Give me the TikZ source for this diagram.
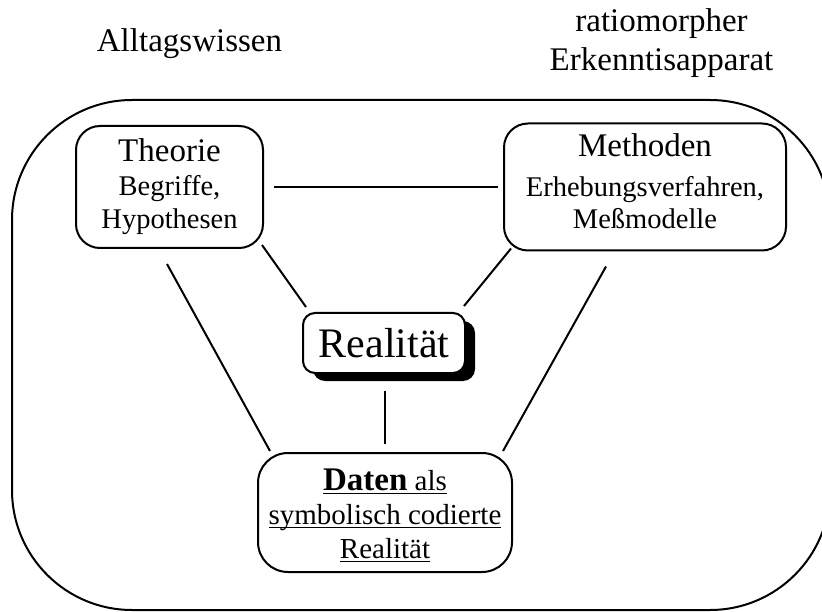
\documentclass[tikz,border=0pt]{standalone}
\usepackage{fontspec}
\setmainfont{Liberation Serif}
\usetikzlibrary{calc,shadows}
\newcommand{\myul}[1]{\setbox0\hbox{#1}\rlap{\rule[-3.5pt]{\wd0}{1.6pt}}\box0}
\tikzset{
  line/.style={line width=2pt},
  box/.style={draw, line width=2pt, fill=white, rounded corners=24pt, inner sep=0pt, align=center,
              font=\fontsize{28.5}{33.5}\selectfont},
  toplabel/.style={inner sep=0pt, align=center, font=\fontsize{33}{39}\selectfont},
}
\begin{document}
\begin{tikzpicture}[x=1pt,y=-1pt]
\clip (0,0) rectangle (822,612);
\draw[line, rounded corners=120pt] (12,100) rectangle (830,610);

\node[toplabel, anchor=base] (alltag) at (189.5,52) {Alltagswissen};
\node[toplabel] (ratio) at (661.5,43) {ratiomorpher\\Erkenntisapparat};

\node[box, minimum width=187pt, minimum height=122pt] (theo) at (169.5,187)
  {{\fontsize{33}{33.5}\selectfont Theorie}\\Begriffe,\\Hypothesen};
\node[box, minimum width=282pt, minimum height=127pt] (meth) at (645,187)
  {{\fontsize{33}{33.5}\selectfont Methoden}\\[6pt]Erhebungsverfahren,\\[-1pt]Me\ss modelle\rule[-11pt]{0pt}{11pt}};
\node[box, rounded corners=12pt, minimum width=162pt, minimum height=60pt,
      font=\fontsize{42}{46}\selectfont,
      drop shadow={shadow xshift=10pt, shadow yshift=-8pt, fill=black, opacity=1, draw=none}]
  (real) at (384,343) {Realität};
\node[box, rounded corners=30pt, minimum width=254pt, minimum height=119pt,
      font=\fontsize{29}{34}\selectfont] (daten) at (385,512.5)
  {\rule{0pt}{28pt}\myul{{\fontsize{33}{34}\selectfont\bfseries Daten} als}\\\myul{symbolisch codierte}\\\myul{Realität}};

\draw[line] ($(theo.east)+(10,0)$) -- ($(meth.west)+(-5,0)$);
\draw[line] ($(theo.south east)+(-2,-4)$) -- ($(real.north west)+(4,-5)$);
\draw[line] ($(meth.south west)+(8,-3)$) -- ($(real.north east)+(-2,-6)$);
\draw[line] ($(theo.south)+(-2.5,15)$) -- ($(daten.north west)+(13,-1)$);
\draw[line] ($(meth.south)+(-39,15)$) -- ($(daten.north east)+(-10,-1)$);
\draw[line] ($(real.south)+(1,17)$) -- ($(daten.north)+(0,-8)$);
\end{tikzpicture}
\end{document}
